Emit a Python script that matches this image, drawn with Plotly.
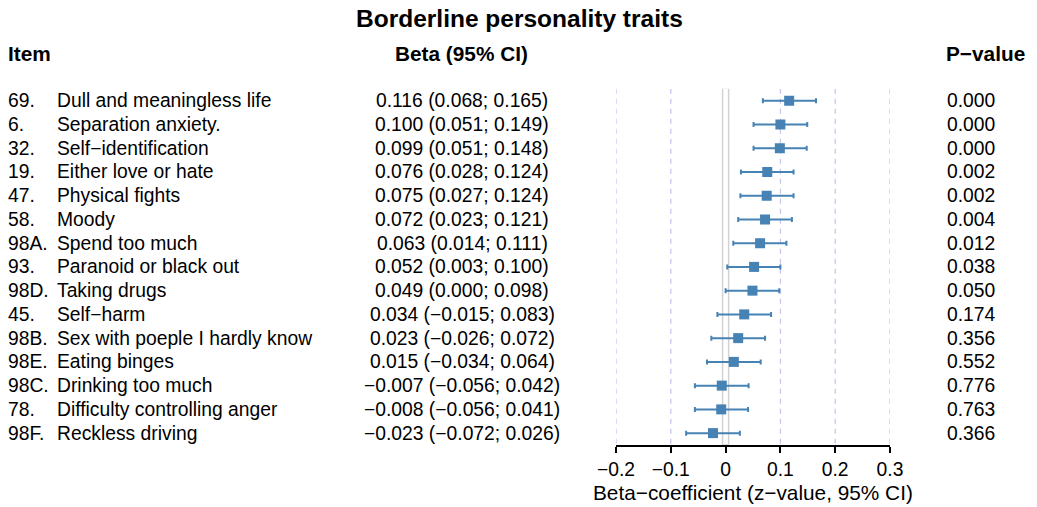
import plotly.graph_objects as go

W, H = 1037, 507

codes = ["69.", "6.", "32.", "19.", "47.", "58.", "98A.", "93.", "98D.", "45.",
         "98B.", "98E.", "98C.", "78.", "98F."]
labels = ["Dull and meaningless life", "Separation anxiety.", "Self\u2212identification",
          "Either love or hate", "Physical fights", "Moody", "Spend too much",
          "Paranoid or black out", "Taking drugs", "Self\u2212harm",
          "Sex with poeple I hardly know", "Eating binges", "Drinking too much",
          "Difficulty controlling anger", "Reckless driving"]
beta = [0.116, 0.100, 0.099, 0.076, 0.075, 0.072, 0.063, 0.052, 0.049, 0.034,
        0.023, 0.015, -0.007, -0.008, -0.023]
lower = [0.068, 0.051, 0.051, 0.028, 0.027, 0.023, 0.014, 0.003, 0.000, -0.015,
         -0.026, -0.034, -0.056, -0.056, -0.072]
upper = [0.165, 0.149, 0.148, 0.124, 0.124, 0.121, 0.111, 0.100, 0.098, 0.083,
         0.072, 0.064, 0.042, 0.041, 0.026]
pvals = ["0.000", "0.000", "0.000", "0.002", "0.002", "0.004", "0.012", "0.038",
         "0.050", "0.174", "0.356", "0.552", "0.776", "0.763", "0.366"]
xticks = [-0.2, -0.1, 0, 0.1, 0.2, 0.3]

FONT = "Liberation Sans, Arial, Helvetica, sans-serif"
BLUE = "#4682B4"
FS = 19.3      # row text and tick labels
FH = 20.8      # bold headers and axis title
FT = 24.5      # main title


def px(x):
    return x / W


def py(y):
    return 1 - y / H


def fmt(v):
    return f"{v:.3f}".replace("-", "\u2212")


rows = list(range(len(beta)))

fig = go.Figure()
fig.add_trace(go.Scatter(
    x=beta, y=rows, mode="markers",
    marker=dict(symbol="square", size=10, color=BLUE),
    error_x=dict(type="data", symmetric=False,
                 array=[u - b for u, b in zip(upper, beta)],
                 arrayminus=[b - l for b, l in zip(beta, lower)],
                 color=BLUE, thickness=2, width=2.5),
    showlegend=False, hoverinfo="skip"))

shapes = []
for t in xticks:
    if t == 0:
        continue
    shapes.append(dict(type="line", xref="x", yref="y", x0=t, x1=t, y0=-0.5, y1=14.5,
                       line=dict(color="#c6c6ee", width=1.3, dash="5px,5px"), layer="below"))
shapes.append(dict(type="rect", xref="x", yref="y", x0=-0.0055, x1=0.0055, y0=-0.53, y1=14.5,
                   line=dict(color="#d2d2d2", width=1.5), fillcolor="white", layer="below"))

ann = []
ann.append(dict(text="<b>Borderline personality traits</b>", x=px(519), y=py(19),
                xref="paper", yref="paper", xanchor="center", yanchor="middle",
                showarrow=False, font=dict(size=FT, family=FONT, color="black")))
ann.append(dict(text="<b>Item</b>", x=px(6), y=py(54), xref="paper", yref="paper",
                xanchor="left", yanchor="middle", showarrow=False,
                font=dict(size=FH, family=FONT, color="black")))
ann.append(dict(text="<b>Beta (95% CI)</b>", x=px(461), y=py(54), xref="paper", yref="paper",
                xanchor="center", yanchor="middle", showarrow=False,
                font=dict(size=FH, family=FONT, color="black")))
ann.append(dict(text="<b>P\u2212value</b>", x=px(944), y=py(54), xref="paper", yref="paper",
                xanchor="left", yanchor="middle", showarrow=False,
                font=dict(size=FH, family=FONT, color="black")))
for i in rows:
    f = dict(size=FS, family=FONT, color="black")
    ann.append(dict(text=codes[i], x=px(5.5), y=i, xref="paper", yref="y",
                    xanchor="left", yanchor="middle", showarrow=False, font=f))
    ann.append(dict(text=labels[i], x=px(54.5), y=i, xref="paper", yref="y",
                    xanchor="left", yanchor="middle", showarrow=False, font=f))
    ann.append(dict(text=f"{fmt(beta[i])} ({fmt(lower[i])}; {fmt(upper[i])})",
                    x=px(462), y=i, xref="paper", yref="y",
                    xanchor="center", yanchor="middle", showarrow=False, font=f))
    ann.append(dict(text=pvals[i], x=px(945), y=i, xref="paper", yref="y",
                    xanchor="left", yanchor="middle", showarrow=False, font=f))
ann.append(dict(text="Beta\u2212coefficient (z\u2212value, 95% CI)", x=px(753), y=py(492),
                xref="paper", yref="paper", xanchor="center", yanchor="middle",
                showarrow=False, font=dict(size=FH, family=FONT, color="black")))

fig.update_layout(
    width=W, height=H, margin=dict(l=0, r=0, t=0, b=0, autoexpand=False),
    autosize=False,
    plot_bgcolor="white", paper_bgcolor="white",
    font=dict(family=FONT, size=FS, color="black"),
    xaxis=dict(domain=[px(616), px(890)], range=[-0.2, 0.3], tickvals=xticks,
               ticks="outside", ticklen=6, tickwidth=1.5, tickcolor="black",
               showline=True, linecolor="black", linewidth=1.5, showgrid=False,
               zeroline=False, tickfont=dict(size=FS, family=FONT, color="black"),
               fixedrange=True),
    yaxis=dict(domain=[1 - 445 / H, 1 - 88.8 / H], range=[14.5, -0.5],
               visible=False, showgrid=False, zeroline=False, fixedrange=True),
    shapes=shapes, annotations=ann,
)

fig.write_html(
    "out.html",
    config={"displayModeBar": False},
    post_script="document.body.style.margin='0px';document.body.style.overflow='hidden';",
)
